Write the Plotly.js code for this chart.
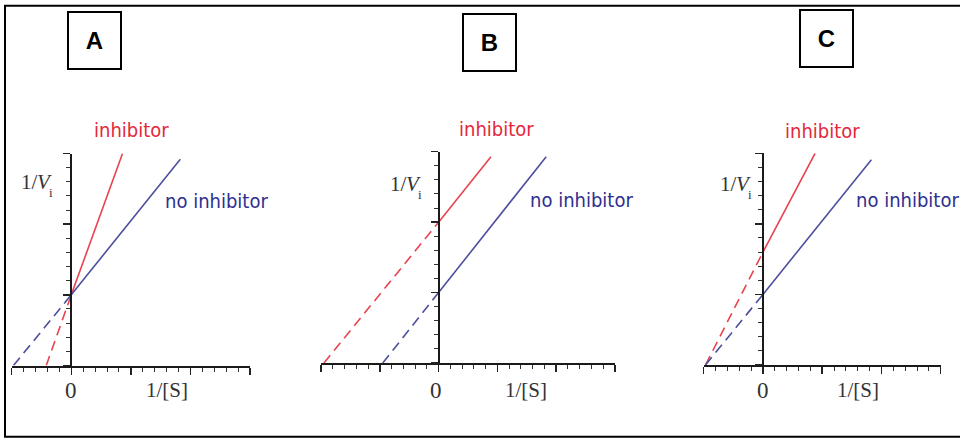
<!DOCTYPE html>
<html>
<head>
<meta charset="utf-8">
<script src="https://cdn.plot.ly/plotly-3.0.1.min.js"></script>
<style>html,body{margin:0;padding:0;background:#fff;}#chart{width:960px;height:439px;}</style>
</head>
<body>
<div id="chart"></div>
<script>
// ---- data (1/[S] on x, 1/Vi on y) ----
const panelLabels = ['A', 'B', 'C'];
const axisRangesX = [[-1, 3], [-2, 3], [-1, 3]];
const axisRangeY = [0, 3];
const seriesNames = ['inhibitor', 'no inhibitor'];

// Panel A (competitive)
const redSolidX_A = [0, 0.86],  redSolidY_A = [1, 3.0];
const redDashX_A  = [-0.42, 0], redDashY_A  = [0, 1];
const blueSolidX_A = [0, 1.83], blueSolidY_A = [1, 2.92];
const blueDashX_A  = [-0.97, 0], blueDashY_A = [0, 1];
// Panel B (uncompetitive)
const redSolidX_B = [0, 0.89],  redSolidY_B = [2, 2.93];
const redDashX_B  = [-1.95, 0], redDashY_B  = [0, 2];
const blueSolidX_B = [0, 1.83], blueSolidY_B = [1, 2.93];
const blueDashX_B  = [-0.95, 0], blueDashY_B = [0, 1];
// Panel C (non-competitive)
const redSolidX_C = [0, 0.88],  redSolidY_C = [1.6, 3.0];
const redDashX_C  = [-0.97, 0], redDashY_C  = [0, 1.6];
const blueSolidX_C = [0, 1.83], blueSolidY_C = [1, 2.91];
const blueDashX_C  = [-0.97, 0], blueDashY_C = [0, 1];

// ---- styling / layout ----
const W = 960, H = 439;
const px = x => x / W;
const py = y => 1 - y / H;
const RED = '#e8434f', BLUE = '#4d4f9c';
const RED_T = '#e4283a', BLUE_T = '#2e3090';

const panelData = [
  {rs:[redSolidX_A,redSolidY_A], rd:[redDashX_A,redDashY_A], bs:[blueSolidX_A,blueSolidY_A], bd:[blueDashX_A,blueDashY_A]},
  {rs:[redSolidX_B,redSolidY_B], rd:[redDashX_B,redDashY_B], bs:[blueSolidX_B,blueSolidY_B], bd:[blueDashX_B,blueDashY_B]},
  {rs:[redSolidX_C,redSolidY_C], rd:[redDashX_C,redDashY_C], bs:[blueSolidX_C,blueSolidY_C], bd:[blueDashX_C,blueDashY_C]}
];
// pixel geometry of each panel: [xLeft, xRight, yBottom, yTop]
const geom = [[11.7, 250, 365.5, 153.5], [321, 615, 363, 151.7], [703.7, 940.7, 365, 153.3]];

const traces = [];
const layout = {
  width: W, height: H,
  margin: {l: 0, r: 0, t: 0, b: 0},
  paper_bgcolor: '#fff', plot_bgcolor: 'rgba(0,0,0,0)',
  showlegend: false,
  annotations: [], shapes: []
};

const labelPos = [
  {inh:[131,130], noinh:[216.5,201], noAnchor:'center', vi:[37.5,182], zero:[71,390], s:[166.5,390], box:[94,40]},
  {inh:[496.7,128.5], noinh:[581.7,200], noAnchor:'center', vi:[406.5,184], zero:[436,390], s:[525.5,390], box:[489,42]},
  {inh:[822.8,131], noinh:[855,200], noAnchor:'left', vi:[736.5,184], zero:[762.7,390], s:[857.5,390], box:[826.3,38]}
];

panelData.forEach((p, i) => {
  const n = i === 0 ? '' : String(i + 1);
  const xa = 'x' + n, ya = 'y' + n;
  const g = geom[i];
  const xr = axisRangesX[i];
  const xd = [px(g[0]), px(g[1])];
  const yd = [py(g[2]), py(g[3])];
  const pos = xd[0] + (0 - xr[0]) / (xr[1] - xr[0]) * (xd[1] - xd[0]);
  const line = (xy, color, dash, name) => ({
    type: 'scatter', mode: 'lines', x: xy[0], y: xy[1], xaxis: xa, yaxis: ya, name: name,
    line: {color: color, width: 1.6, dash: dash}, hoverinfo: 'skip', cliponaxis: false
  });
  traces.push(line(p.rd, RED, '10px,6px', seriesNames[0]));
  traces.push(line(p.bd, BLUE, '10px,6px', seriesNames[1]));
  traces.push(line(p.rs, RED, 'solid', seriesNames[0]));
  traces.push(line(p.bs, BLUE, 'solid', seriesNames[1]));

  layout['xaxis' + n] = {
    domain: xd, range: xr, anchor: ya, showline: true, linecolor: '#1a1a1a', linewidth: 2,
    ticks: 'outside', ticklen: 7, tickwidth: 1.5, tickcolor: '#222', tick0: 0, dtick: 1,
    minor: {ticks: 'outside', ticklen: 4, tickwidth: 1, tickcolor: '#333', dtick: 0.2, showgrid: false},
    showticklabels: false, showgrid: false, zeroline: false, fixedrange: true
  };
  layout['yaxis' + n] = {
    domain: yd, range: axisRangeY, anchor: 'free', position: pos, side: 'left',
    showline: true, linecolor: '#1a1a1a', linewidth: 2,
    ticks: 'outside', ticklen: 7, tickwidth: 1.5, tickcolor: '#222', tick0: 0, dtick: 1,
    minor: {ticks: 'outside', ticklen: 4, tickwidth: 1, tickcolor: '#333', dtick: 0.2, showgrid: false},
    showticklabels: false, showgrid: false, zeroline: false, fixedrange: true
  };

  const L = labelPos[i];
  const ann = (x, y, text, font, xanchor) => layout.annotations.push({
    xref: 'paper', yref: 'paper', x: px(x), y: py(y), xanchor: xanchor || 'center', yanchor: 'middle',
    text: text, showarrow: false, font: font, borderpad: 0
  });
  const hand = {family: 'DejaVu Sans Condensed, DejaVu Sans, sans-serif', size: 20};
  ann(L.inh[0], L.inh[1], seriesNames[0], Object.assign({}, hand, {color: RED_T}));
  ann(L.noinh[0], L.noinh[1], seriesNames[1], Object.assign({}, hand, {color: BLUE_T}), L.noAnchor);
  const serifF = 'Liberation Serif, Times New Roman, serif';
  // y-axis label 1/V_i
  ann(L.vi[0] + 1, L.vi[1], '1/', {family: serifF, size: 21, color: '#333'}, 'right');
  ann(L.vi[0] - 1.5, L.vi[1], 'V', {family: serifF, size: 21, color: '#333', style: 'italic'}, 'left');
  ann(L.vi[0] + 13.5, L.vi[1] + 10, 'i', {family: serifF, size: 13, color: '#333'});
  // x-axis labels
  ann(L.zero[0], L.zero[1], '0', {family: serifF, size: 23, color: '#333'});
  ann(L.s[0], L.s[1], '1/[S]', {family: serifF, size: 21, color: '#333'});
  // panel letter boxes
  layout.annotations.push({xref:'paper', yref:'paper', x:px(L.box[0]), y:py(L.box[1]), xanchor:'center', yanchor:'middle',
    text: panelLabels[i], showarrow:false, width: 51, height: 55, borderpad: 0,
    bordercolor: '#000', borderwidth: 2, bgcolor: '#fff',
    font: {family: 'Liberation Sans, Arial, sans-serif', size: 24, color: '#000', weight: 'bold'}});
});

// outer frame
layout.shapes.push({type:'rect', xref:'paper', yref:'paper', x0: px(5), x1: 1.01, y0: py(436.7), y1: py(5.7),
  line:{color:'#000', width:2}, fillcolor:'rgba(0,0,0,0)', layer:'above'});

Plotly.newPlot('chart', traces, layout, {staticPlot: true, displayModeBar: false});
</script>
</body>
</html>
